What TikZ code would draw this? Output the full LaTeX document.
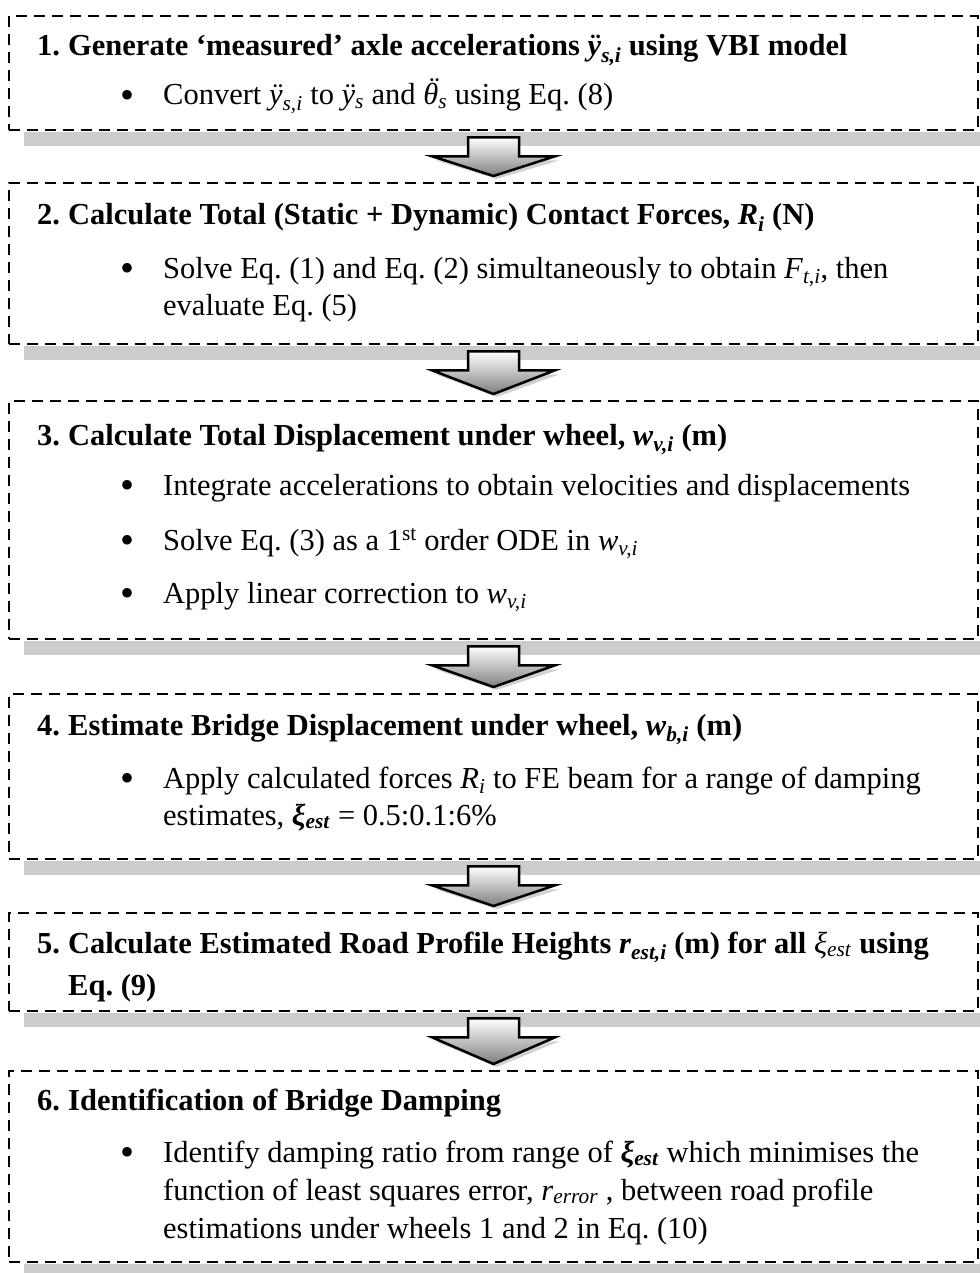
\documentclass[tikz,border=0pt]{standalone}
\usepackage{fontspec}
\setmainfont{Liberation Serif}
\usetikzlibrary{calc}
\frenchspacing
\newcommand\subs[1]{\textsubscript{#1}}
\newcommand\mbi[1]{\textbf{\textit{#1}}}
\newcommand\thetaddot{\leavevmode\rlap{\hspace{0.13em}\raisebox{0.2em}{\textit{¨}}}\textit{θ}}
\newcommand\bul{\raisebox{-3.5pt}{\fontsize{40}{40}\selectfont •}}
\tikzset{
  boxnode/.style={draw=black, line width=2.3pt, dash pattern=on 11pt off 7pt,
    minimum width=969pt, inner sep=0pt, anchor=north},
  shadowband/.style={fill=black!20, draw=none},
  txt/.style={anchor=base west, inner sep=0pt, font=\fontsize{30.5}{37}\selectfont},
  ttl/.style={txt, font=\fontsize{30.5}{37}\selectfont\bfseries},
  arrowshade/.style={top color=white, bottom color=black!50, draw=black,
    line width=2.5pt, line join=miter},
  arrowshadow/.style={fill=black!30, draw=none, opacity=0.6}
}
\newcommand\flowarrow[2]{%
  \fill[arrowshadow] ($(#1.south)+(-58,29)$) -- ($(#1.south)+(66,29)$) -- ($(#2.north)+(3,-3)$) -- cycle;
  \shadedraw[arrowshade]
    ($(#1.south)+(-25.5,6)$) -- ($(#1.south)+(25.5,6)$) -- ($(#1.south)+(25.5,25)$)
    -- ($(#1.south)+(61.5,25)$) -- ($(#2.north)+(0,-6)$) -- ($(#1.south)+(-61.5,25)$)
    -- ($(#1.south)+(-25.5,25)$) -- cycle;
}
\newcommand\band[1]{%
  \fill[shadowband] ($(#1.south west)+(16,1)$) rectangle ($(#1.south east)+(1.5,15)$);
}
\begin{document}
\begin{tikzpicture}[x=1pt,y=-1pt]
\useasboundingbox (0,0) rectangle (979,1273);
% boxes
\node[boxnode, minimum height=114pt] (b1) at (493.5,15) {};
\node[boxnode, minimum height=161pt] (b2) at (493.5,182) {};
\node[boxnode, minimum height=238pt] (b3) at (493.5,400) {};
\node[boxnode, minimum height=165pt] (b4) at (493.5,693) {};
\node[boxnode, minimum height=98pt]  (b5) at (493.5,912) {};
\node[boxnode, minimum height=191pt] (b6) at (493.5,1070) {};
% shadow bands
\band{b1}\band{b2}\band{b3}\band{b4}\band{b5}\band{b6}
% arrows
\flowarrow{b1}{b2}
\flowarrow{b2}{b3}
\flowarrow{b3}{b4}
\flowarrow{b4}{b5}
\flowarrow{b5}{b6}
% box 1
\node[ttl] (n1) at (37,56) {1.};
\node[ttl] (t1) at (68,56) {Generate ‘measured’ axle accelerations \textit{ÿ}\subs{\textit{s,i}} using VBI model};
\node[txt] (d1) at (120,105) {\bul};
\node[txt] (l1) at (163,105) {Convert \textit{ÿ}\subs{\textit{s,i}} to \textit{ÿ}\subs{\textit{s}} and \thetaddot\subs{\textit{s}} using Eq. (8)};
% box 2
\node[ttl] (n2) at (37,225) {2.};
\node[ttl] (t2) at (68,225) {Calculate Total (Static + Dynamic) Contact Forces, \textit{R}\subs{\textit{i}} (N)};
\node[txt] (d2) at (120,278) {\bul};
\node[txt] (l2a) at (163,278) {Solve Eq. (1) and Eq. (2) simultaneously to obtain \textit{F}\subs{\textit{t,i}}, then};
\node[txt] (l2b) at (163,315) {evaluate Eq. (5)};
% box 3
\node[ttl] (n3) at (37,445) {3.};
\node[ttl] (t3) at (68,445) {Calculate Total Displacement under wheel, \textit{w}\subs{\textit{v,i}} (m)};
\node[txt] (d3a) at (120,495) {\bul};
\node[txt] (l3a) at (163,495) {Integrate accelerations to obtain velocities and displacements};
\node[txt] (d3b) at (120,550) {\bul};
\node[txt] (l3b) at (163,550) {Solve Eq. (3) as a 1\textsuperscript{st} order ODE in \textit{w}\subs{\textit{v,i}}};
\node[txt] (d3c) at (120,603) {\bul};
\node[txt] (l3c) at (163,603) {Apply linear correction to \textit{w}\subs{\textit{v,i}}};
% box 4
\node[ttl] (n4) at (37,735) {4.};
\node[ttl] (t4) at (68,735) {Estimate Bridge Displacement under wheel, \textit{w}\subs{\textit{b,i}} (m)};
\node[txt] (d4) at (120,788) {\bul};
\node[txt] (l4a) at (163,788) {Apply calculated forces \textit{R}\subs{\textit{i}} to FE beam for a range of damping};
\node[txt] (l4b) at (163,825) {estimates, \mbi{ξ}\subs{\mbi{est}} = 0.5:0.1:6\%};
% box 5
\node[ttl] (n5) at (37,953) {5.};
\node[ttl] (t5a) at (68,953) {Calculate Estimated Road Profile Heights \textit{r}\subs{\textit{est,i}} (m) for all \textit{\mdseries ξ}\subs{\textit{\mdseries est}} using};
\node[ttl] (t5b) at (68,995) {Eq. (9)};
% box 6
\node[ttl] (n6) at (37,1110) {6.};
\node[ttl] (t6) at (68,1110) {Identification of Bridge Damping};
\node[txt] (d6) at (120,1162) {\bul};
\node[txt] (l6a) at (163,1162) {Identify damping ratio from range of \mbi{ξ}\subs{\mbi{est}} which minimises the};
\node[txt] (l6b) at (163,1200) {function of least squares error, \textit{r}\subs{\textit{error}} , between road profile};
\node[txt] (l6c) at (163,1238) {estimations under wheels 1 and 2 in Eq. (10)};
\end{tikzpicture}
\end{document}
